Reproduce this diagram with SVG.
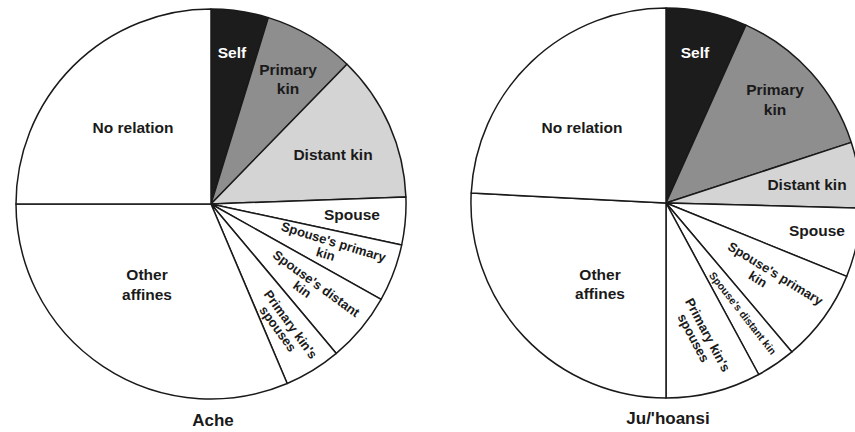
<svg xmlns="http://www.w3.org/2000/svg" width="855" height="432" viewBox="0 0 855 432">
<style>
.s{stroke:#1a1a1a;stroke-width:1.5;stroke-linejoin:round}
.w{fill:#ffffff}
.k{fill:#1c1c1c}
.m{fill:#8e8e8e}
.l{fill:#d4d4d4}
text{font-family:"Liberation Sans",Arial,sans-serif;font-weight:bold;fill:#1a1a1a;text-anchor:middle}
.t15{font-size:15.5px}
.t13{font-size:13px}
.t11{font-size:10.5px}
.t16{font-size:17px}
.wt{fill:#ffffff}
</style>
<rect width="855" height="432" fill="#ffffff"/>
<g id="ache">
  <g id="ache-self"><path class="s k" d="M211,204 L211,9 A195,195 0 0 1 268.3,17.6 Z"/><text class="t15 wt" x="232" y="58">Self</text></g>
  <g id="ache-primary-kin"><path class="s m" d="M211,204 L268.3,17.6 A195,195 0 0 1 347,64.2 Z"/><text class="t15" x="288" y="75">Primary</text><text class="t15" x="288" y="94">kin</text></g>
  <g id="ache-distant-kin"><path class="s l" d="M211,204 L347,64.2 A195,195 0 0 1 405.9,196.9 Z"/><text class="t15" x="333" y="160">Distant kin</text></g>
  <g id="ache-spouse"><path class="s w" d="M211,204 L405.9,196.9 A195,195 0 0 1 401.7,244.9 Z"/><text class="t15" x="352" y="220">Spouse</text></g>
  <g id="ache-spouses-primary-kin"><path class="s w" d="M211,204 L401.7,244.9 A195,195 0 0 1 381.1,299.4 Z"/><g transform="translate(331,250) rotate(17)"><text class="t13" x="0" y="-4">Spouse's primary</text><text class="t13" x="-4" y="10">kin</text></g></g>
  <g id="ache-spouses-distant-kin"><path class="s w" d="M211,204 L381.1,299.4 A195,195 0 0 1 336.3,353.4 Z"/><g transform="translate(313,288) rotate(36)"><text class="t13" x="0" y="-1">Spouse's distant</text><text class="t13" x="-8" y="12">kin</text></g></g>
  <g id="ache-primary-kins-spouses"><path class="s w" d="M211,204 L336.3,353.4 A195,195 0 0 1 287.2,383.5 Z"/><g transform="translate(287,327) rotate(54)"><text class="t13" x="0" y="0">Primary kin's</text><text class="t13" x="-4" y="13">spouses</text></g></g>
  <g id="ache-other-affines"><path class="s w" d="M211,204 L287.2,383.5 A195,195 0 0 1 16,204 Z"/><text class="t15" x="147" y="280">Other</text><text class="t15" x="147" y="300">affines</text></g>
  <g id="ache-no-relation"><path class="s w" d="M211,204 L16,204 A195,195 0 0 1 211,9 Z"/><text class="t15" x="133" y="133">No relation</text></g>
  <text class="t16" x="213" y="426">Ache</text>
</g>
<g id="juhoansi">
  <g id="ju-self"><path class="s k" d="M666,203 L666,8 A195,195 0 0 1 745.9,25.1 Z"/><text class="t15 wt" x="695" y="58">Self</text></g>
  <g id="ju-primary-kin"><path class="s m" d="M666,203 L745.9,25.1 A195,195 0 0 1 851.3,142.4 Z"/><text class="t15" x="775" y="95">Primary</text><text class="t15" x="775" y="115">kin</text></g>
  <g id="ju-distant-kin"><path class="s l" d="M666,203 L851.3,142.4 A195,195 0 0 1 860.9,208.1 Z"/><text class="t15" x="807" y="190">Distant kin</text></g>
  <g id="ju-spouse"><path class="s w" d="M666,203 L860.9,208.1 A195,195 0 0 1 846.7,276.4 Z"/><text class="t15" x="817" y="236">Spouse</text></g>
  <g id="ju-spouses-primary-kin"><path class="s w" d="M666,203 L846.7,276.4 A195,195 0 0 1 791.9,351.9 Z"/><g transform="translate(772,279) rotate(31.5)"><text class="t13" x="0" y="-2">Spouse's primary</text><text class="t13" x="-12" y="12">kin</text></g></g>
  <g id="ju-spouses-distant-kin"><path class="s w" d="M666,203 L791.9,351.9 A195,195 0 0 1 758.7,374.5 Z"/><g transform="translate(743,313) rotate(52)"><text class="t11" x="0" y="4">Spouse's distant kin</text></g></g>
  <g id="ju-primary-kins-spouses"><path class="s w" d="M666,203 L758.7,374.5 A195,195 0 0 1 666,398 Z"/><g transform="translate(702,338) rotate(62)"><text class="t13" x="0" y="-2">Primary kin's</text><text class="t13" x="-4" y="12">spouses</text></g></g>
  <g id="ju-other-affines"><path class="s w" d="M666,203 L666,398 A195,195 0 0 1 471.2,193.1 Z"/><text class="t15" x="600" y="280">Other</text><text class="t15" x="600" y="299">affines</text></g>
  <g id="ju-no-relation"><path class="s w" d="M666,203 L471.2,193.1 A195,195 0 0 1 666,8 Z"/><text class="t15" x="582" y="133">No relation</text></g>
  <text class="t16" x="668" y="424">Ju/'hoansi</text>
</g>
<g id="connectors"></g>
</svg>
